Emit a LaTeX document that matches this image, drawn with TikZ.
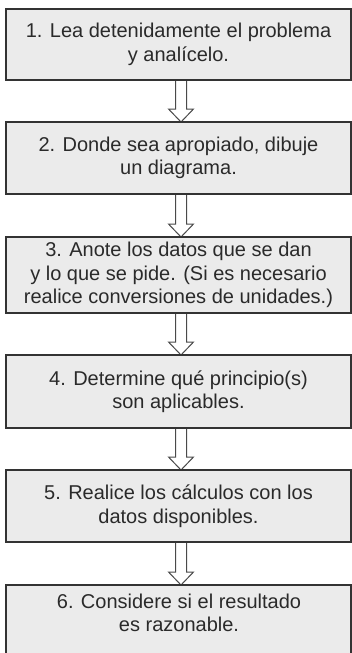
\documentclass[tikz,border=0pt]{standalone}
\usepackage{fontspec}
\setmainfont{Liberation Sans}
\usetikzlibrary{calc,backgrounds}
\definecolor{boxfill}{HTML}{EBEBEB}
\definecolor{boxline}{HTML}{333333}
\definecolor{arrline}{HTML}{4A4A4A}
\definecolor{txt}{HTML}{2A2A2A}
\newcommand{\hollowarr}[2]{%
  \draw[harrow] let \p1=(#1.south), \p2=(#2.north) in
    (\x1-3pt,\y1) -- (\x1-3pt,\y2+13pt) -- (\x1-10pt,\y2+13pt) -- (\x1+2.5pt,\y2)
    -- (\x1+15pt,\y2+13pt) -- (\x1+8pt,\y2+13pt) -- (\x1+8pt,\y1);}
\begin{document}
\begin{tikzpicture}[x=1pt,y=-1pt,
  box/.style={draw=boxline, line width=1.4pt, fill=boxfill, minimum width=345pt,
    inner sep=0pt, outer sep=0pt, align=center, text=txt,
    font=\fontsize{20}{23.5}\selectfont},
  boxtext/.style={inner sep=0pt, align=center, text=txt,
    font=\fontsize{20}{23.5}\selectfont},
  harrow/.style={draw=arrline, line width=1pt, fill=white, line join=miter}]
\useasboundingbox (0,0) rectangle (352,653);
\node[box, minimum height=71pt] (b1) at (178.5,44.5) {1. Lea detenidamente el problema\\y analícelo.};
\node[box, minimum height=72pt] (b2) at (178.5,158) {2. Donde sea apropiado, dibuje\\un diagrama.};
\node[box, minimum height=76pt] (b3) at (178.5,275) {3. Anote los datos que se dan\\y lo que se pide. (Si es necesario\\realice conversiones de unidades.)};
\node[box, minimum height=73pt] (b4) at (178.5,391.5) {4. Determine qué principio(s)\\son aplicables.};
\node[box, minimum height=72pt] (b5) at (178.5,506) {5. Realice los cálculos con los\\datos disponibles.};
\node[box, minimum height=80pt] (b6) at (178.5,625) {};
\node[boxtext] (t6) at (179,613) {6. Considere si el resultado\\es razonable.};
\begin{scope}[on background layer]
\hollowarr{b1}{b2}
\hollowarr{b2}{b3}
\hollowarr{b3}{b4}
\hollowarr{b4}{b5}
\hollowarr{b5}{b6}
\end{scope}
\end{tikzpicture}
\end{document}
